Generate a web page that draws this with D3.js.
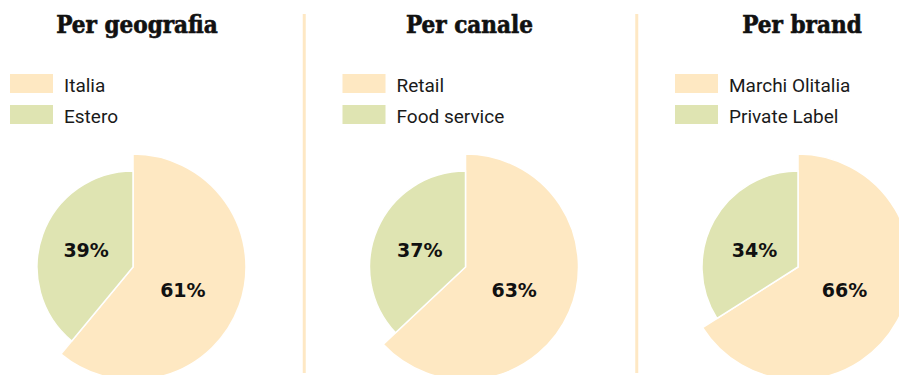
<!DOCTYPE html>
<html>
<head>
<meta charset="utf-8">
<script src="https://cdn.jsdelivr.net/npm/d3@7"></script>
<style>
  html, body { margin: 0; padding: 0; background: #fff; }
  svg { display: block; }
</style>
</head>
<body>
<svg id="chart" width="899" height="375"></svg>
<script>
// Breakdown panels
const panelTitles  = ["Per geografia", "Per canale", "Per brand"];
const firstLabels  = ["Italia", "Retail", "Marchi Olitalia"];
const secondLabels = ["Estero", "Food service", "Private Label"];
const firstValues  = [61, 63, 66];
const secondValues = [39, 37, 34];

const colors = ["#FEE8C2", "#DFE4B2"];

const svg = d3.select("#chart");

const xCenter = d3.scalePoint()
  .domain(panelTitles)
  .range([133, 798]);

const cy = 267;
const rBig = 113, rSmall = 96;

const pie = d3.pie().sort(null).value(d => d.value);
const labelArc = d3.arc().innerRadius(0).outerRadius(106);
// vertical offset of each value label from the pie centre
const labelDy = [23, -17];

// Vertical separators between panels
const step = xCenter.step();
svg.selectAll("line.sep")
  .data(panelTitles.slice(1))
  .join("line")
  .attr("class", "sep")
  .attr("x1", d => xCenter(d) - step / 2 + 5)
  .attr("x2", d => xCenter(d) - step / 2 + 5)
  .attr("y1", 14).attr("y2", 373)
  .attr("stroke", "#FEE8C4")
  .attr("stroke-width", 3);

panelTitles.forEach((title, i) => {
  const cx = xCenter(title);
  const g = svg.append("g");

  g.append("text")
    .attr("x", cx + 4).attr("y", 33)
    .attr("text-anchor", "middle")
    .attr("font-family", "'DejaVu Serif Condensed', 'DejaVu Serif', serif")
    .attr("font-stretch", "condensed")
    .attr("font-weight", "bold")
    .attr("font-size", 24)
    .attr("fill", "#111")
    .attr("stroke", "#111")
    .attr("stroke-width", 0.6)
    .text(title);

  const items = [
    { label: firstLabels[i], value: firstValues[i] },
    { label: secondLabels[i], value: secondValues[i] }
  ];

  // Legend
  const leg = g.append("g").attr("transform", `translate(${cx - 123},74)`);
  items.forEach((it, k) => {
    leg.append("rect")
      .attr("x", 0).attr("y", k * 31)
      .attr("width", 43).attr("height", 19)
      .attr("fill", colors[k]);
    leg.append("text")
      .attr("x", 54).attr("y", k * 31 + 18)
      .attr("font-family", "Roboto, 'Noto Sans', sans-serif")
      .attr("font-size", 19)
      .attr("fill", "#1a1a1a")
      .text(it.label);
  });

  // Pie: the first slice is drawn with a larger radius
  const arcs = pie(items);
  const pg = g.append("g").attr("transform", `translate(${cx},${cy})`);
  pg.selectAll("path")
    .data(arcs)
    .join("path")
    .attr("d", (d, k) => d3.arc().innerRadius(0).outerRadius(k === 0 ? rBig : rSmall)(d))
    .attr("fill", (d, k) => colors[k])
    .attr("stroke", "#fff")
    .attr("stroke-width", 1.5);

  pg.selectAll("text")
    .data(arcs)
    .join("text")
    .attr("transform", d => {
      const [x] = labelArc.centroid(d);
      return `translate(${x + (d.index === 1 ? 3 : 0)},${labelDy[d.index]})`;
    })
    .attr("text-anchor", "middle")
    .attr("dy", "0.36em")
    .attr("font-family", "'DejaVu Sans', sans-serif")
    .attr("font-weight", "bold")
    .attr("font-size", 19)
    .attr("fill", "#111")
    .text(d => d.data.value + "%");
});
</script>
</body>
</html>
